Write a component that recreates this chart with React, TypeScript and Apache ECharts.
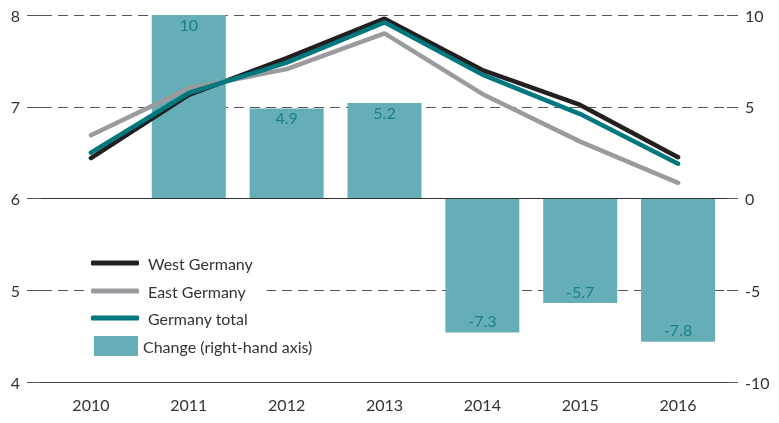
import React, { useEffect, useRef } from "react";
import * as echarts from "echarts";

const years = ["2010", "2011", "2012", "2013", "2014", "2015", "2016"];
const westGermany = [6.44, 7.13, 7.53, 7.96, 7.4, 7.02, 6.45];
const eastGermany = [6.69, 7.2, 7.41, 7.8, 7.14, 6.62, 6.17];
const germanyTotal = [6.5, 7.15, 7.48, 7.92, 7.35, 6.92, 6.38];
const change: (number | null)[] = [null, 10, 4.9, 5.2, -7.3, -5.7, -7.8];

const FONT = "Lato";
const TXT = "#333333";

export default function App() {
  const ref = useRef<HTMLDivElement>(null);
  useEffect(() => {
    if (!ref.current) return;
    const chart = echarts.init(ref.current, null, { renderer: "svg" });
    const legendBase = (name: string, top: number, left: number, icon: string, w: number, h: number, pad: number) => ({
      data: [name],
      left,
      top,
      orient: "vertical",
      icon,
      itemWidth: w,
      itemHeight: h,
      padding: 0,
      itemGap: 0,
      selectedMode: false,
      textStyle: { fontFamily: FONT, fontSize: 16, color: TXT, lineHeight: 20, padding: [0, 0, 0, pad] },
    });
    chart.setOption({
      animation: false,
      textStyle: { fontFamily: FONT },
      grid: { left: 42, right: 52, top: 15, bottom: 41 },
      legend: [
        legendBase("West Germany", 253, 91, "roundRect", 48, 5, 4),
        { ...legendBase("East Germany", 281, 86, "roundRect", 48, 5, 4), padding: [0, 21, 0, 5], backgroundColor: "#ffffff" },
        legendBase("Germany total", 308, 91, "roundRect", 48, 5, 4),
        legendBase("Change (right-hand axis)", 336, 94, "rect", 44, 20, 0),
      ],
      xAxis: {
        type: "category",
        data: years,
        boundaryGap: true,
        axisLine: { onZero: false, lineStyle: { color: "#444", width: 1 } },
        axisTick: { alignWithLabel: true, length: 8, lineStyle: { color: "#444" } },
        axisLabel: { margin: 14, fontFamily: FONT, fontSize: 16, color: TXT },
      },
      yAxis: [
        {
          type: "value",
          min: 4,
          max: 8,
          interval: 1,
          axisLine: { show: false },
          axisTick: { show: true, length: 15, lineStyle: { color: "#555" } },
          axisLabel: { margin: 22, fontFamily: FONT, fontSize: 16, color: TXT },
          splitLine: { show: true, lineStyle: { color: "#555", width: 1, type: [10, 6] } },
        },
        {
          type: "value",
          min: -10,
          max: 10,
          interval: 5,
          position: "right",
          axisLine: { show: false },
          axisTick: { show: true, length: 11, lineStyle: { color: "#555" } },
          axisLabel: { margin: 18, fontFamily: FONT, fontSize: 16, color: TXT },
          splitLine: { show: false },
        },
      ],
      series: [
        {
          name: "Change (right-hand axis)",
          type: "bar",
          yAxisIndex: 1,
          barWidth: 74,
          itemStyle: { color: "#65aeb8" },
          data: change.map((v) =>
            v === null
              ? "-"
              : {
                  value: v,
                  label: { position: v >= 0 ? "insideTop" : "insideBottom", distance: v >= 0 ? 1 : 4 },
                }
          ),
          label: {
            show: true,
            fontFamily: FONT,
            fontSize: 16,
            color: "#1a7f8a",
          },
          markLine: {
            silent: true,
            symbol: "none",
            label: { show: false },
            lineStyle: { color: "#333", type: "solid", width: 1 },
            data: [{ yAxis: 0 }],
          },
        },
        {
          name: "West Germany",
          type: "line",
          data: westGermany,
          symbol: "none",
          color: "#231f20",
          lineStyle: { width: 4.5, color: "#231f20", cap: "round" },
        },
        {
          name: "East Germany",
          type: "line",
          data: eastGermany,
          symbol: "none",
          color: "#9a9b9e",
          lineStyle: { width: 4.5, color: "#9a9b9e", cap: "round" },
        },
        {
          name: "Germany total",
          type: "line",
          data: germanyTotal,
          symbol: "none",
          color: "#00787e",
          lineStyle: { width: 4.5, color: "#00787e", cap: "round" },
        },
      ],
    });
    return () => chart.dispose();
  }, []);
  return <div ref={ref} style={{ position: "fixed", left: 0, top: 0, width: 779, height: 423 }} />;
}
